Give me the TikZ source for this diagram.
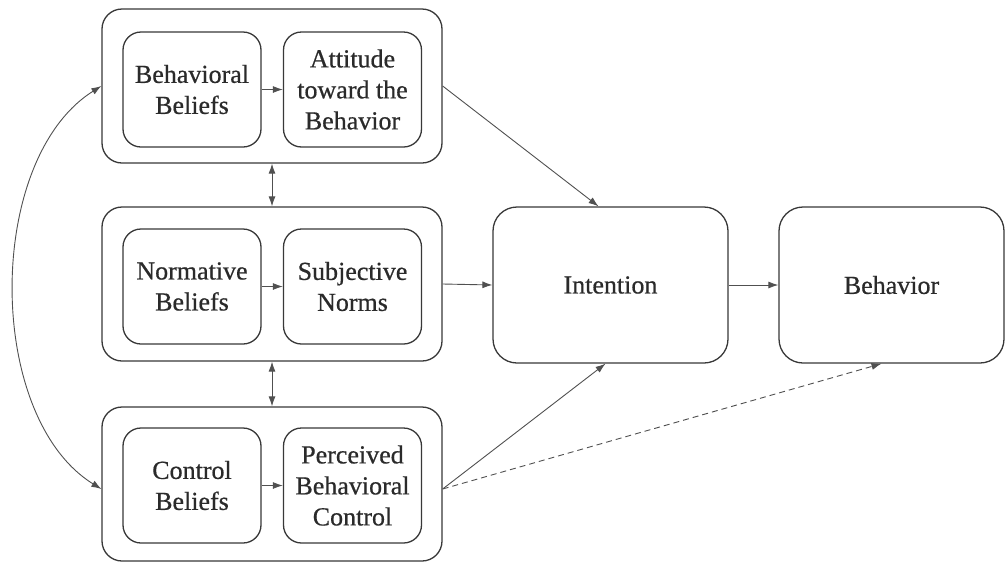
\documentclass[tikz,border=0pt]{standalone}
\usepackage{fontspec}
\setmainfont{Liberation Serif}
\newfontfamily\lblfont{Liberation Serif}[FakeBold=0.6]
\usetikzlibrary{arrows.meta}
\definecolor{boxline}{HTML}{383838}
\definecolor{conline}{HTML}{505050}
\definecolor{txt}{HTML}{2A2A2A}
\begin{document}
\begin{tikzpicture}[x=1pt,y=-1pt,
  outerbox/.style={draw=boxline, line width=1.3pt, rounded corners=20pt, minimum width=340pt, minimum height=154pt, inner sep=0pt},
  innerbox/.style={draw=boxline, line width=1.3pt, rounded corners=18pt, minimum width=138pt, minimum height=115pt, inner sep=0pt, align=center, text=txt, font=\lblfont\fontsize{26}{31}\selectfont},
  bigbox/.style={draw=boxline, line width=1.3pt, rounded corners=24pt, minimum height=156pt, inner sep=0pt, align=center, text=txt, font=\lblfont\fontsize{26}{31}\selectfont},
  conn/.style={draw=conline, line width=0.9pt, -{Latex[length=10pt,width=7pt]}},
  dconn/.style={draw=conline, line width=0.9pt, {Latex[length=10pt,width=7pt]}-{Latex[length=10pt,width=7pt]}},
  dashconn/.style={conn, dashed, dash pattern=on 6pt off 4pt}
]
\useasboundingbox (0,0) rectangle (1005,563);

% outer group boxes
\node[outerbox] (o1) at (272,86) {};
\node[outerbox] (o2) at (272,284) {};
\node[outerbox] (o3) at (272,484) {};

% inner boxes
\node[innerbox] (bb) at (192,89.5) {Behavioral\\Beliefs};
\node[innerbox] (att) at (352.5,89.5) {Attitude\\toward the\\Behavior};
\node[innerbox] (nb) at (192,286.5) {Normative\\Beliefs};
\node[innerbox] (sn) at (352.5,286.5) {Subjective\\Norms};
\node[innerbox] (cb) at (192,485.5) {Control\\Beliefs};
\node[innerbox] (pbc) at (352.5,485.5) {Perceived\\Behavioral\\Control};

% intention and behavior
\node[bigbox, minimum width=235pt] (int) at (610.5,285) {Intention};
\node[bigbox, minimum width=225pt] (beh) at (891.5,285) {Behavior};

% inner arrows
\draw[conn] (bb.east) -- (att.west);
\draw[conn] (nb.east) -- (sn.west);
\draw[conn] (cb.east) -- (pbc.west);

% vertical double arrows
\draw[dconn] (o1.south) -- (o2.north);
\draw[dconn] (o2.south) -- (o3.north);

% curved double arrow on the left
\coordinate (c1) at ([yshift=0pt]o1.west);
\coordinate (c3) at ([yshift=-5pt]o3.west);
\draw[dconn] (c1) .. controls (-15,159) and (-15,417) .. (c3);

% arrows to intention and behavior
\draw[conn] (o1.east) -- ([xshift=-12pt]int.north);
\draw[conn] (o2.east) -- (int.west);
\draw[conn] (c3 -| o3.east) -- ([xshift=-5pt]int.south);
\draw[dashconn] (c3 -| o3.east) -- ([xshift=-10pt]beh.south);
\draw[conn] (int.east) -- (beh.west);
\end{tikzpicture}
\end{document}
